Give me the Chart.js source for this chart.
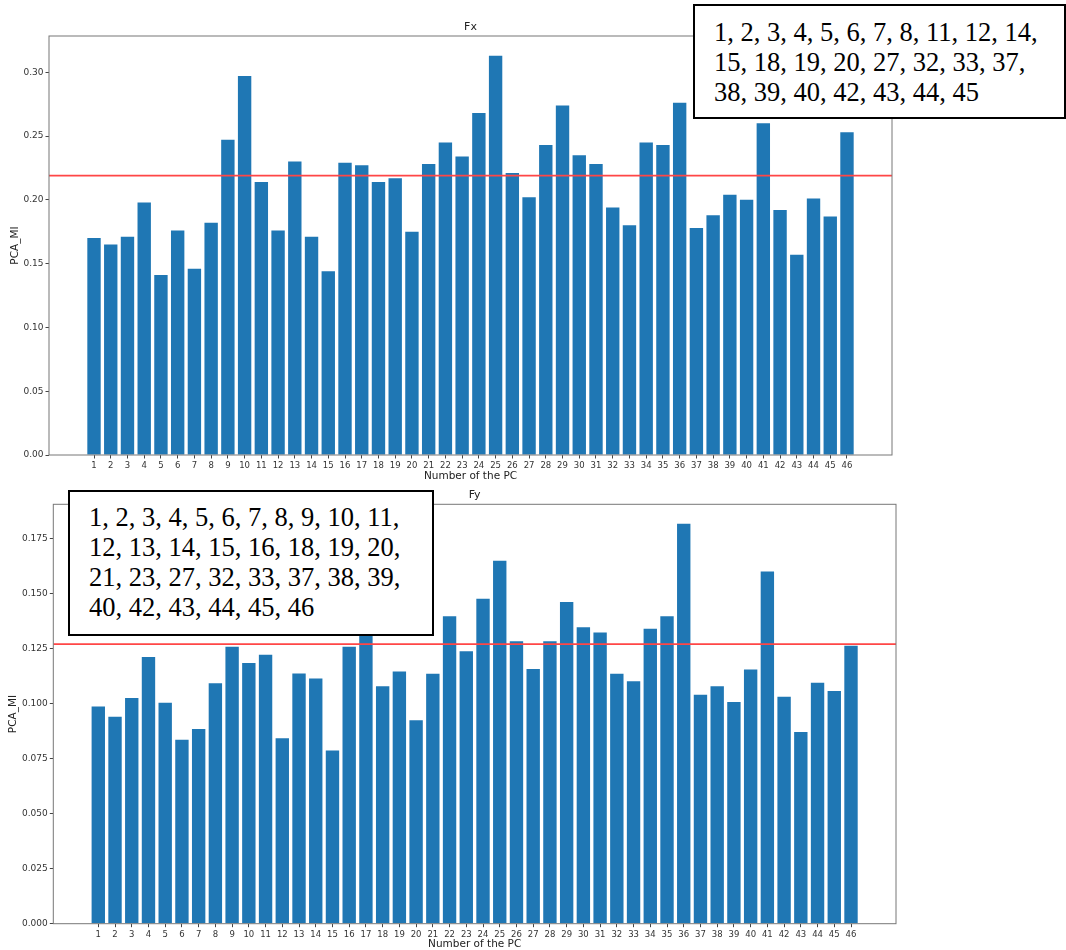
<!DOCTYPE html>
<html>
<head>
<meta charset="utf-8">
<script src="https://cdn.jsdelivr.net/npm/chart.js@4.4.0/dist/chart.umd.min.js"></script>
<style>
body { margin:0; background:#fff; width:1066px; height:950px; overflow:hidden; position:relative; }
canvas { position:absolute; left:0; }
#fx_canvas { top:0; }
#fy_canvas { top:480px; }
.note { position:absolute; box-sizing:border-box; background:#fff; border:2px solid #000;
	font-family:'Liberation Serif','Times New Roman',serif; font-size:26.5px; line-height:30px;
	color:#000; white-space:nowrap; }
#fx_note { left:693px; top:4px; width:373px; height:115px; padding:11px 0 0 19px; }
#fy_note { left:68px; top:490px; width:366px; height:146px; padding:10px 0 0 19px; }
</style>
</head>
<body>
<canvas id="fx_canvas" width="1066" height="482"></canvas>
<canvas id="fy_canvas" width="1066" height="470"></canvas>
<div class="note" id="fx_note">1, 2, 3, 4, 5, 6, 7, 8, 11, 12, 14,<br>15, 18, 19, 20, 27, 32, 33, 37,<br>38, 39, 40, 42, 43, 44, 45</div>
<div class="note" id="fy_note">1, 2, 3, 4, 5, 6, 7, 8, 9, 10, 11,<br>12, 13, 14, 15, 16, 18, 19, 20,<br>21, 23, 27, 32, 33, 37, 38, 39,<br>40, 42, 43, 44, 45, 46</div>
<script>
// PC numbers (x categories)
const pcs = [1, 2, 3, 4, 5, 6, 7, 8, 9, 10, 11, 12, 13, 14, 15, 16, 17, 18, 19, 20, 21, 22, 23,
	24, 25, 26, 27, 28, 29, 30, 31, 32, 33, 34, 35, 36, 37, 38, 39, 40, 41, 42, 43, 44, 45, 46];

// PCA_MI for Fx
const fx = [0.170, 0.165, 0.171, 0.198, 0.141, 0.176, 0.146, 0.182, 0.247, 0.297, 0.214, 0.176,
	0.230, 0.171, 0.144, 0.229, 0.227, 0.214, 0.217, 0.175, 0.228, 0.245, 0.234, 0.268, 0.313,
	0.221, 0.202, 0.243, 0.274, 0.235, 0.228, 0.194, 0.180, 0.245, 0.243, 0.276, 0.178, 0.188,
	0.204, 0.200, 0.260, 0.192, 0.157, 0.201, 0.187, 0.253];
const fxThreshold = 0.219;
const fxTicks = [0, 0.05, 0.10, 0.15, 0.20, 0.25, 0.30];

// PCA_MI for Fy
const fy = [0.0986, 0.0940, 0.1025, 0.1211, 0.1004, 0.0836, 0.0884, 0.1092, 0.1258, 0.1184,
	0.1222, 0.0842, 0.1137, 0.1114, 0.0787, 0.1258, 0.1350, 0.1079, 0.1146, 0.0924, 0.1135,
	0.1396, 0.1238, 0.1476, 0.1649, 0.1283, 0.1157, 0.1283, 0.1461, 0.1346, 0.1323, 0.1135,
	0.1101, 0.1340, 0.1397, 0.1817, 0.1040, 0.1078, 0.1007, 0.1155, 0.1600, 0.1031, 0.0871,
	0.1094, 0.1057, 0.1263];
const fyThreshold = 0.127;
const fyTicks = [0, 0.025, 0.050, 0.075, 0.100, 0.125, 0.150, 0.175];

const xMin = -1.69, xMax = 48.69;

Chart.defaults.font.family = "'DejaVu Sans', sans-serif";
Chart.defaults.color = '#333';

// box round the plot area (matplotlib spines) + the title centred over it
const framePlugin = {
	id: 'frame',
	afterDraw(chart, args, opts) {
		const a = chart.chartArea;
		const c = chart.ctx;
		c.save();
		c.strokeStyle = '#777';
		c.lineWidth = 1;
		c.strokeRect(a.left, a.top, a.right - a.left, a.bottom - a.top);
		c.fillStyle = '#222';
		c.font = "11px 'DejaVu Sans', sans-serif";
		c.textAlign = 'center';
		c.textBaseline = 'middle';
		c.fillText(opts.text, (a.left + a.right) / 2, a.top - 9);
		c.restore();
	}
};

function makeChart(id, title, values, threshold, ticks, decimals, lay) {
	const ctx = document.querySelector(id);
	return new Chart(ctx, {
		type : 'bar',
		data : {
			datasets : [ {
				type : 'line',
				data : [ { x : xMin, y : threshold }, { x : xMax, y : threshold } ],
				borderColor : 'rgb(255,70,70)',
				borderWidth : 1.6,
				pointRadius : 0,
				order : 0
			}, {
				data : pcs.map((p, i) => ({ x : p, y : values[i] })),
				backgroundColor : '#1f77b4',
				borderWidth : 0,
				barPercentage : 0.8,
				categoryPercentage : 1,
				order : 1
			} ]
		},
		options : {
			responsive : false,
			animation : false,
			layout : { padding : { left : 0, right : lay.right, top : lay.top, bottom : 0 } },
			plugins : {
				legend : { display : false },
				tooltip : { enabled : false },
				title : { display : false },
				frame : { text : title }
			},
			scales : {
				x : {
					type : 'linear',
					min : xMin,
					max : xMax,
					offset : false,
					afterBuildTicks : s => { s.ticks = pcs.map(p => ({ value : p })); },
					afterFit : s => { s.height = lay.xHeight; },
					ticks : { font : { size : 8.5 }, padding : 2, maxRotation : 0, autoSkip : false },
					grid : { offset : false, drawOnChartArea : false, tickLength : 3.5, color : '#444' },
					border : { display : false },
					title : { display : true, text : 'Number of the PC', color : '#222',
						font : { size : 10.5, lineHeight : 1 }, padding : { top : 0, bottom : 0 } }
				},
				y : {
					min : 0,
					max : lay.yMax,
					afterBuildTicks : s => { s.ticks = ticks.map(v => ({ value : v })); },
					afterFit : s => { s.width = lay.yWidth; },
					ticks : { font : { size : 9 }, padding : 2, callback : v => v.toFixed(decimals) },
					grid : { drawOnChartArea : false, tickLength : 3.5, color : '#444' },
					border : { display : false },
					title : { display : true, text : 'PCA_MI', color : '#222',
						font : { size : 10.5 }, padding : { top : lay.yTitlePad, bottom : 0 } }
				}
			}
		},
		plugins : [ framePlugin ]
	});
}

makeChart('#fx_canvas', 'Fx', fx, fxThreshold, fxTicks, 2,
	{ right : 174, top : 36, xHeight : 27, yWidth : 49, yMax : 0.3284, yTitlePad : 8.7 });
makeChart('#fy_canvas', 'Fy', fy, fyThreshold, fyTicks, 3,
	{ right : 170, top : 24.3, xHeight : 26.3, yWidth : 53.3, yMax : 0.1905, yTitlePad : 6.9 });
</script>
</body>
</html>
